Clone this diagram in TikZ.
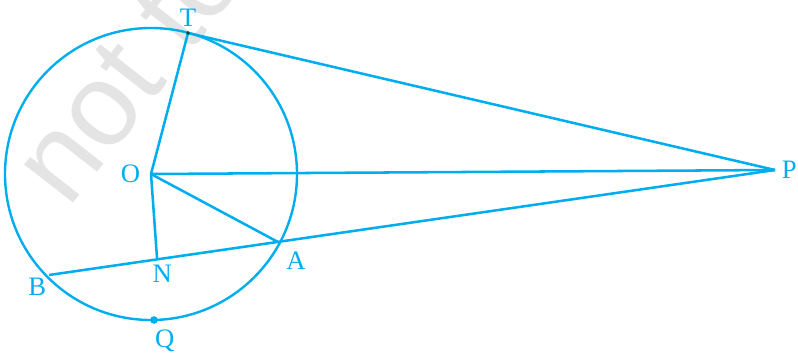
\documentclass[tikz,border=0pt]{standalone}
\usepackage{fontspec}
\setmainfont{Liberation Serif}
\setsansfont{Liberation Sans}
\usetikzlibrary{positioning}
\definecolor{figcyan}{HTML}{00AEEF}
\definecolor{markgray}{HTML}{E4E4E4}
\tikzset{
    seg/.style={draw=figcyan, line width=1.9pt},
    ring/.style={draw=figcyan, line width=1.8pt},
    lbl/.style={text=figcyan, font=\fontsize{20}{20}\selectfont, inner sep=0pt},
    watermark/.style={text=markgray, font=\sffamily\fontsize{88}{88}\selectfont, rotate=52, inner sep=0pt}
}

\begin{document}
\begin{tikzpicture}[x=0.75pt, y=-0.75pt, node distance=5pt]
    \useasboundingbox (0,0) rectangle (798,358);
    \clip (0,0) rectangle (798,358);
    \node[watermark, anchor=base west] (mark) at (68,210) {not to};
    % points of the figure
    \coordinate (O) at (151,174);
    \coordinate (T) at (188,33);
    \coordinate (P) at (775,170);
    \coordinate (A) at (278,242);
    \coordinate (B) at (49,275);
    \coordinate (N) at (157,258);
    \coordinate (Q) at (154,320);
    \draw[ring] (O) circle[radius=146];
    \draw[seg] (T) -- (P);
    \draw[seg] (O) -- (P);
    \draw[seg] (P) -- (B);
    \draw[seg] (O) -- (T);
    \draw[seg] (O) -- (A);
    \draw[seg] (O) -- (N);
    \fill[black!80] (T) circle[radius=1.8];
    \fill[figcyan] (Q) circle[radius=3.8];
    % labels
    \node[lbl, above=5pt of T] (labT) {T};
    \node[lbl, left=8pt of O] (labO) {O};
    \node[lbl, right=5pt of P] (labP) {P};
    \node[lbl, below right=7pt and 6pt of A] (labA) {A};
    \node[lbl, below left=2pt and 2pt of B] (labB) {B};
    \node[lbl, below=5pt of N, xshift=4pt] (labN) {N};
    \node[lbl, below=7pt of Q, xshift=8pt] (labQ) {Q};
\end{tikzpicture}
\end{document}
